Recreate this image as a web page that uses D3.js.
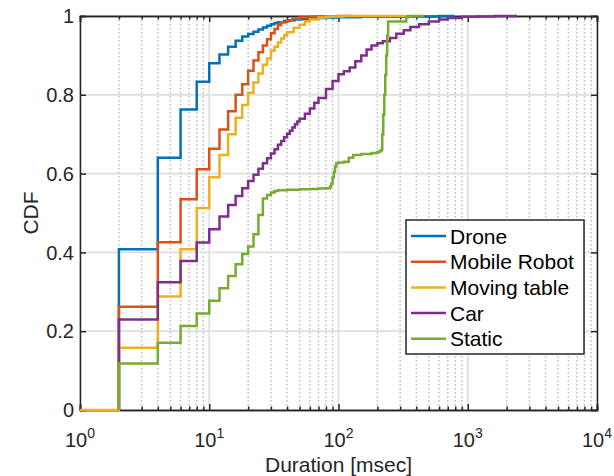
<!DOCTYPE html>
<html>
<head>
<meta charset="utf-8">
<script src="https://cdn.jsdelivr.net/npm/d3@7"></script>
<style>
  html, body { margin: 0; padding: 0; background: #fff; }
  svg { display: block; font-family: "Liberation Sans", Arial, Helvetica, sans-serif; }
</style>
</head>
<body>
<svg id="chart" width="614" height="476"></svg>
<script>
// Empirical CDFs of event duration for each scenario (x in msec, level reached at x)
const seriesNames = ["Drone", "Mobile Robot", "Moving table", "Car", "Static"];
const seriesColors = ["#0072BD", "#D95319", "#EDB120", "#7E2F8E", "#77AC30"];

const droneX = [2, 2, 4, 6, 8, 10, 12, 14, 16, 18, 20, 22, 24, 26, 28, 30, 32, 34, 38, 42, 46, 50, 60, 70, 80, 100, 150, 200, 300, 500, 600, 790];
const droneP = [0, .408, .640, .763, .833, .880, .902, .922, .937, .948, .954, .960, .966, .971, .975, .979, .982, .984, .987, .989, .991, .992, .994, .995, .996, .997, .998, .998, .999, .999, 1, 1];

const robotX = [2, 2, 4, 6, 8, 10, 12, 14, 16, 18, 20, 22, 24, 26, 28, 30, 32, 34, 36, 40, 44, 50, 60, 70, 80, 100, 130];
const robotP = [0, .262, .426, .535, .611, .663, .712, .758, .800, .827, .861, .887, .908, .925, .941, .956, .967, .977, .984, .989, .993, .996, .998, .999, .999, 1, 1];

const tableX = [1, 2, 4, 6, 8, 10, 12, 14, 16, 18, 20, 22, 24, 26, 28, 30, 32, 34, 36, 38, 40, 45, 50, 55, 60, 70, 80, 90, 110, 340];
const tableP = [0, .158, .288, .408, .513, .591, .647, .700, .742, .774, .805, .831, .854, .876, .892, .912, .922, .933, .943, .951, .959, .970, .978, .986, .991, .996, .998, .999, 1, 1];

const carX = [2, 2, 4, 6, 8, 10, 12, 14, 16, 18, 20, 22, 24, 26, 28, 30, 32, 34, 36, 38, 40, 42, 44, 46, 48, 50, 55, 60, 65, 70, 80, 90, 100, 110, 122, 135, 150, 165, 180, 200, 220, 250, 280, 320, 360, 420, 500, 600, 700, 900, 1200, 1600, 2400];
const carP = [0, .230, .324, .378, .425, .459, .491, .520, .543, .563, .581, .597, .612, .626, .639, .651, .662, .673, .683, .692, .701, .709, .717, .725, .732, .739, .752, .765, .780, .792, .815, .835, .852, .860, .869, .885, .900, .915, .925, .931, .936, .944, .955, .964, .972, .979, .986, .991, .995, .998, .999, 1, 1];

const staticX = [2, 2, 4, 6, 8, 10, 12, 14, 16, 18, 20, 22, 24, 26, 28, 30, 32, 34, 40, 50, 60, 70, 80, 86, 88, 90, 92, 94, 96, 100, 110, 120, 130, 150, 180, 200, 210, 214, 218, 222, 226, 230, 234, 238, 242, 334, 344, 360, 460];
const staticP = [0, .118, .171, .213, .245, .277, .309, .340, .370, .396, .415, .446, .495, .537, .546, .552, .556, .558, .559, .560, .561, .562, .563, .568, .575, .590, .605, .618, .626, .628, .630, .640, .647, .650, .652, .655, .658, .660, .700, .750, .800, .850, .900, .950, .986, .996, .998, 1, 1];

const seriesX = [droneX, robotX, tableX, carX, staticX];
const seriesP = [droneP, robotP, tableP, carP, staticP];

// Axis ticks
const xTickExps = [0, 1, 2, 3, 4];
const yTicks = [0, 0.2, 0.4, 0.6, 0.8, 1];
const yTickLabels = ["0", "0.2", "0.4", "0.6", "0.8", "1"];
const xLabel = "Duration [msec]";
const yLabel = "CDF";

const svg = d3.select("#chart");
const plot = { left: 80, right: 597, top: 16, bottom: 410 };
const axisColor = "#262626";

const x = d3.scaleLog().domain([1, 1e4]).range([plot.left, plot.right]);
const y = d3.scaleLinear().domain([0, 1]).range([plot.bottom, plot.top]);

// Minor (2..9 per decade) and major grid values along x
const minorX = [];
for (let e = 0; e < 4; e++) for (let m = 2; m <= 9; m++) minorX.push(m * Math.pow(10, e));
const majorX = xTickExps.map(e => Math.pow(10, e));

const grid = svg.append("g");
grid.selectAll("line.minor").data(minorX).join("line")
  .attr("x1", d => x(d)).attr("x2", d => x(d))
  .attr("y1", plot.top).attr("y2", plot.bottom)
  .attr("stroke", "#bdbdbd").attr("stroke-width", 1.5)
  .attr("stroke-dasharray", "1.5,2.5");
grid.selectAll("line.majx").data(majorX).join("line")
  .attr("x1", d => x(d)).attr("x2", d => x(d))
  .attr("y1", plot.top).attr("y2", plot.bottom)
  .attr("stroke", "#dedede").attr("stroke-width", 1.7);
grid.selectAll("line.majy").data(yTicks).join("line")
  .attr("x1", plot.left).attr("x2", plot.right)
  .attr("y1", d => y(d)).attr("y2", d => y(d))
  .attr("stroke", "#dedede").attr("stroke-width", 1.7);

// Axes with inward ticks on all four sides
const bottomAxis = d3.axisBottom(x).tickValues(majorX).tickSize(-6).tickFormat("");
const topAxis = d3.axisTop(x).tickValues(majorX).tickSize(-6).tickFormat("");
const leftAxis = d3.axisLeft(y).tickValues(yTicks).tickSize(-6).tickFormat("");
const rightAxis = d3.axisRight(y).tickValues(yTicks).tickSize(-6).tickFormat("");
const bottomMinor = d3.axisBottom(x).tickValues(minorX).tickSize(-3.5).tickFormat("");
const topMinor = d3.axisTop(x).tickValues(minorX).tickSize(-3.5).tickFormat("");

function styleAxis(g) {
  g.selectAll("path").attr("stroke", axisColor).attr("stroke-width", 1.5);
  g.selectAll("line").attr("stroke", axisColor).attr("stroke-width", 1.5);
}
svg.append("g").attr("transform", `translate(0,${plot.bottom})`).call(bottomAxis).call(styleAxis);
svg.append("g").attr("transform", `translate(0,${plot.top})`).call(topAxis).call(styleAxis);
svg.append("g").attr("transform", `translate(${plot.left},0)`).call(leftAxis).call(styleAxis);
svg.append("g").attr("transform", `translate(${plot.right},0)`).call(rightAxis).call(styleAxis);
svg.append("g").attr("transform", `translate(0,${plot.bottom})`).call(bottomMinor).call(styleAxis);
svg.append("g").attr("transform", `translate(0,${plot.top})`).call(topMinor).call(styleAxis);

// Tick labels
const tickFont = 20;
const xt = svg.append("g").attr("fill", axisColor).attr("font-size", tickFont);
xTickExps.forEach(e => {
  const t = xt.append("text").attr("x", x(Math.pow(10, e))).attr("y", 447).attr("text-anchor", "middle");
  t.append("tspan").text("10");
  t.append("tspan").attr("dy", -9).attr("font-size", 14).text(String(e));
});
svg.append("g").attr("fill", axisColor).attr("font-size", tickFont)
  .selectAll("text").data(yTicks).join("text")
  .attr("x", 74).attr("y", d => y(d)).attr("dy", "0.36em")
  .attr("text-anchor", "end").text((d, i) => yTickLabels[i]);

// Axis labels
svg.append("text").attr("x", (plot.left + plot.right) / 2).attr("y", 472)
  .attr("text-anchor", "middle").attr("font-size", 21).attr("fill", axisColor).text(xLabel);
svg.append("text").attr("transform", `translate(38,${(plot.top + plot.bottom) / 2}) rotate(-90)`)
  .attr("text-anchor", "middle").attr("font-size", 21).attr("fill", axisColor).text(yLabel);

// CDF staircases
const line = d3.line().x(d => x(d[0])).y(d => y(d[1])).curve(d3.curveStepAfter);
svg.append("g").selectAll("path").data(seriesNames).join("path")
  .attr("d", (d, i) => line(seriesX[i].map((v, j) => [v, seriesP[i][j]])))
  .attr("fill", "none")
  .attr("stroke", (d, i) => seriesColors[i])
  .attr("stroke-width", 2.5)
  .attr("stroke-linejoin", "miter");

// Legend
const leg = { x: 406, y: 220, w: 178, h: 134, row: 25.7, first: 236 };
const lg = svg.append("g");
lg.append("rect").attr("x", leg.x).attr("y", leg.y).attr("width", leg.w).attr("height", leg.h)
  .attr("fill", "#fff").attr("stroke", axisColor).attr("stroke-width", 1.5);
seriesNames.forEach((name, i) => {
  const cy = leg.first + i * leg.row;
  lg.append("line").attr("x1", 411).attr("x2", 446).attr("y1", cy).attr("y2", cy)
    .attr("stroke", seriesColors[i]).attr("stroke-width", 2.5);
  lg.append("text").attr("x", 450).attr("y", cy).attr("dy", "0.36em")
    .attr("font-size", 21).attr("fill", "#000").text(name);
});
</script>
</body>
</html>
